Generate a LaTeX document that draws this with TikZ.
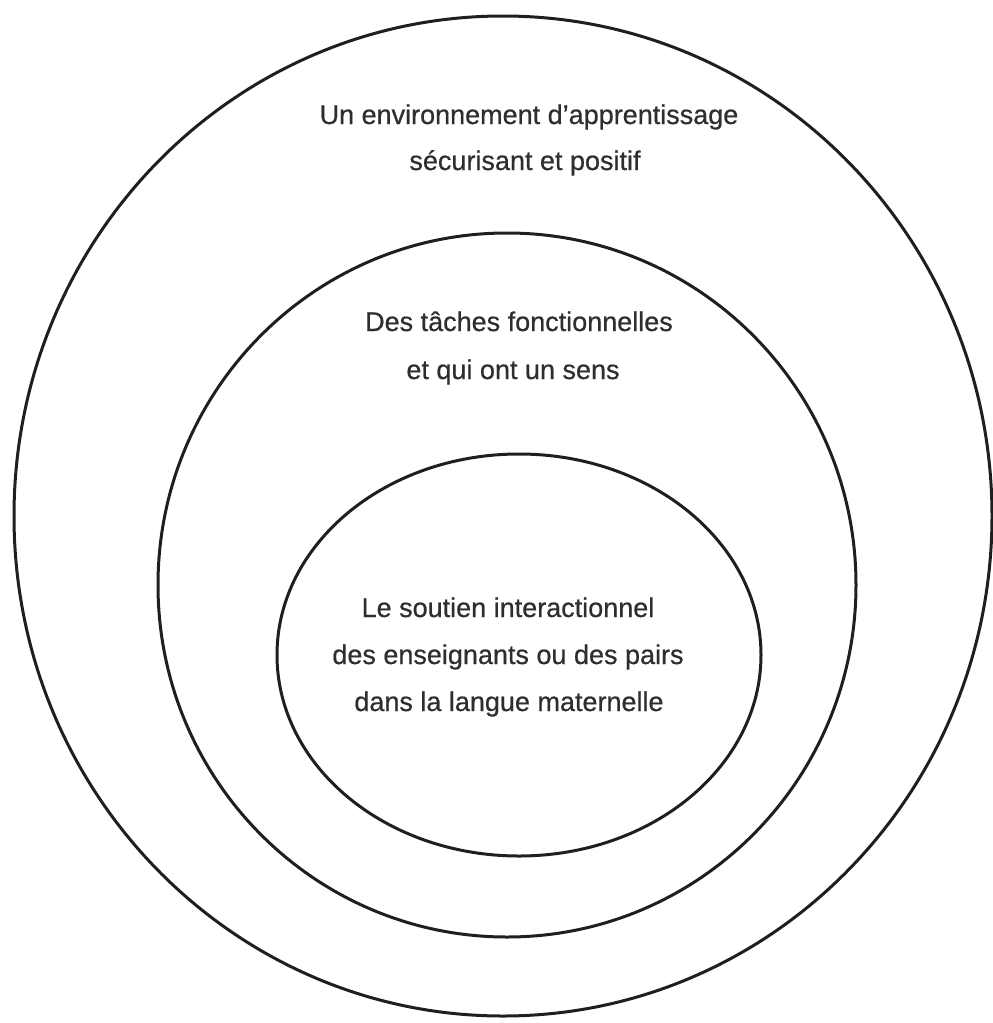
\documentclass[tikz,border=0pt]{standalone}
\usepackage{fontspec}
\setmainfont[FakeBold=0.6]{Liberation Sans}
\begin{document}
\begin{tikzpicture}[x=1pt,y=-1pt,
  ring/.style={line width=3pt,draw=black!88},
  lbl/.style={anchor=base,inner sep=0pt,font=\fontsize{27}{32}\selectfont,text=black!82}]
\useasboundingbox (0,0) rectangle (993,1023);
\draw[ring] (503,516) ellipse [x radius=489,y radius=500];
\draw[ring] (507,585) ellipse [x radius=349,y radius=352];
\draw[ring] (519,655) ellipse [x radius=242,y radius=201];
\node[lbl] (a1) at (529,124) {Un environnement d’apprentissage};
\node[lbl] (a2) at (525,170) {sécurisant et positif};
\node[lbl] (b1) at (519,331) {Des tâches fonctionnelles};
\node[lbl] (b2) at (513,379) {et qui ont un sens};
\node[lbl] (c1) at (508,617) {Le soutien interactionnel};
\node[lbl] (c2) at (508,664) {des enseignants ou des pairs};
\node[lbl] (c3) at (509,711) {dans la langue maternelle};
\end{tikzpicture}
\end{document}
